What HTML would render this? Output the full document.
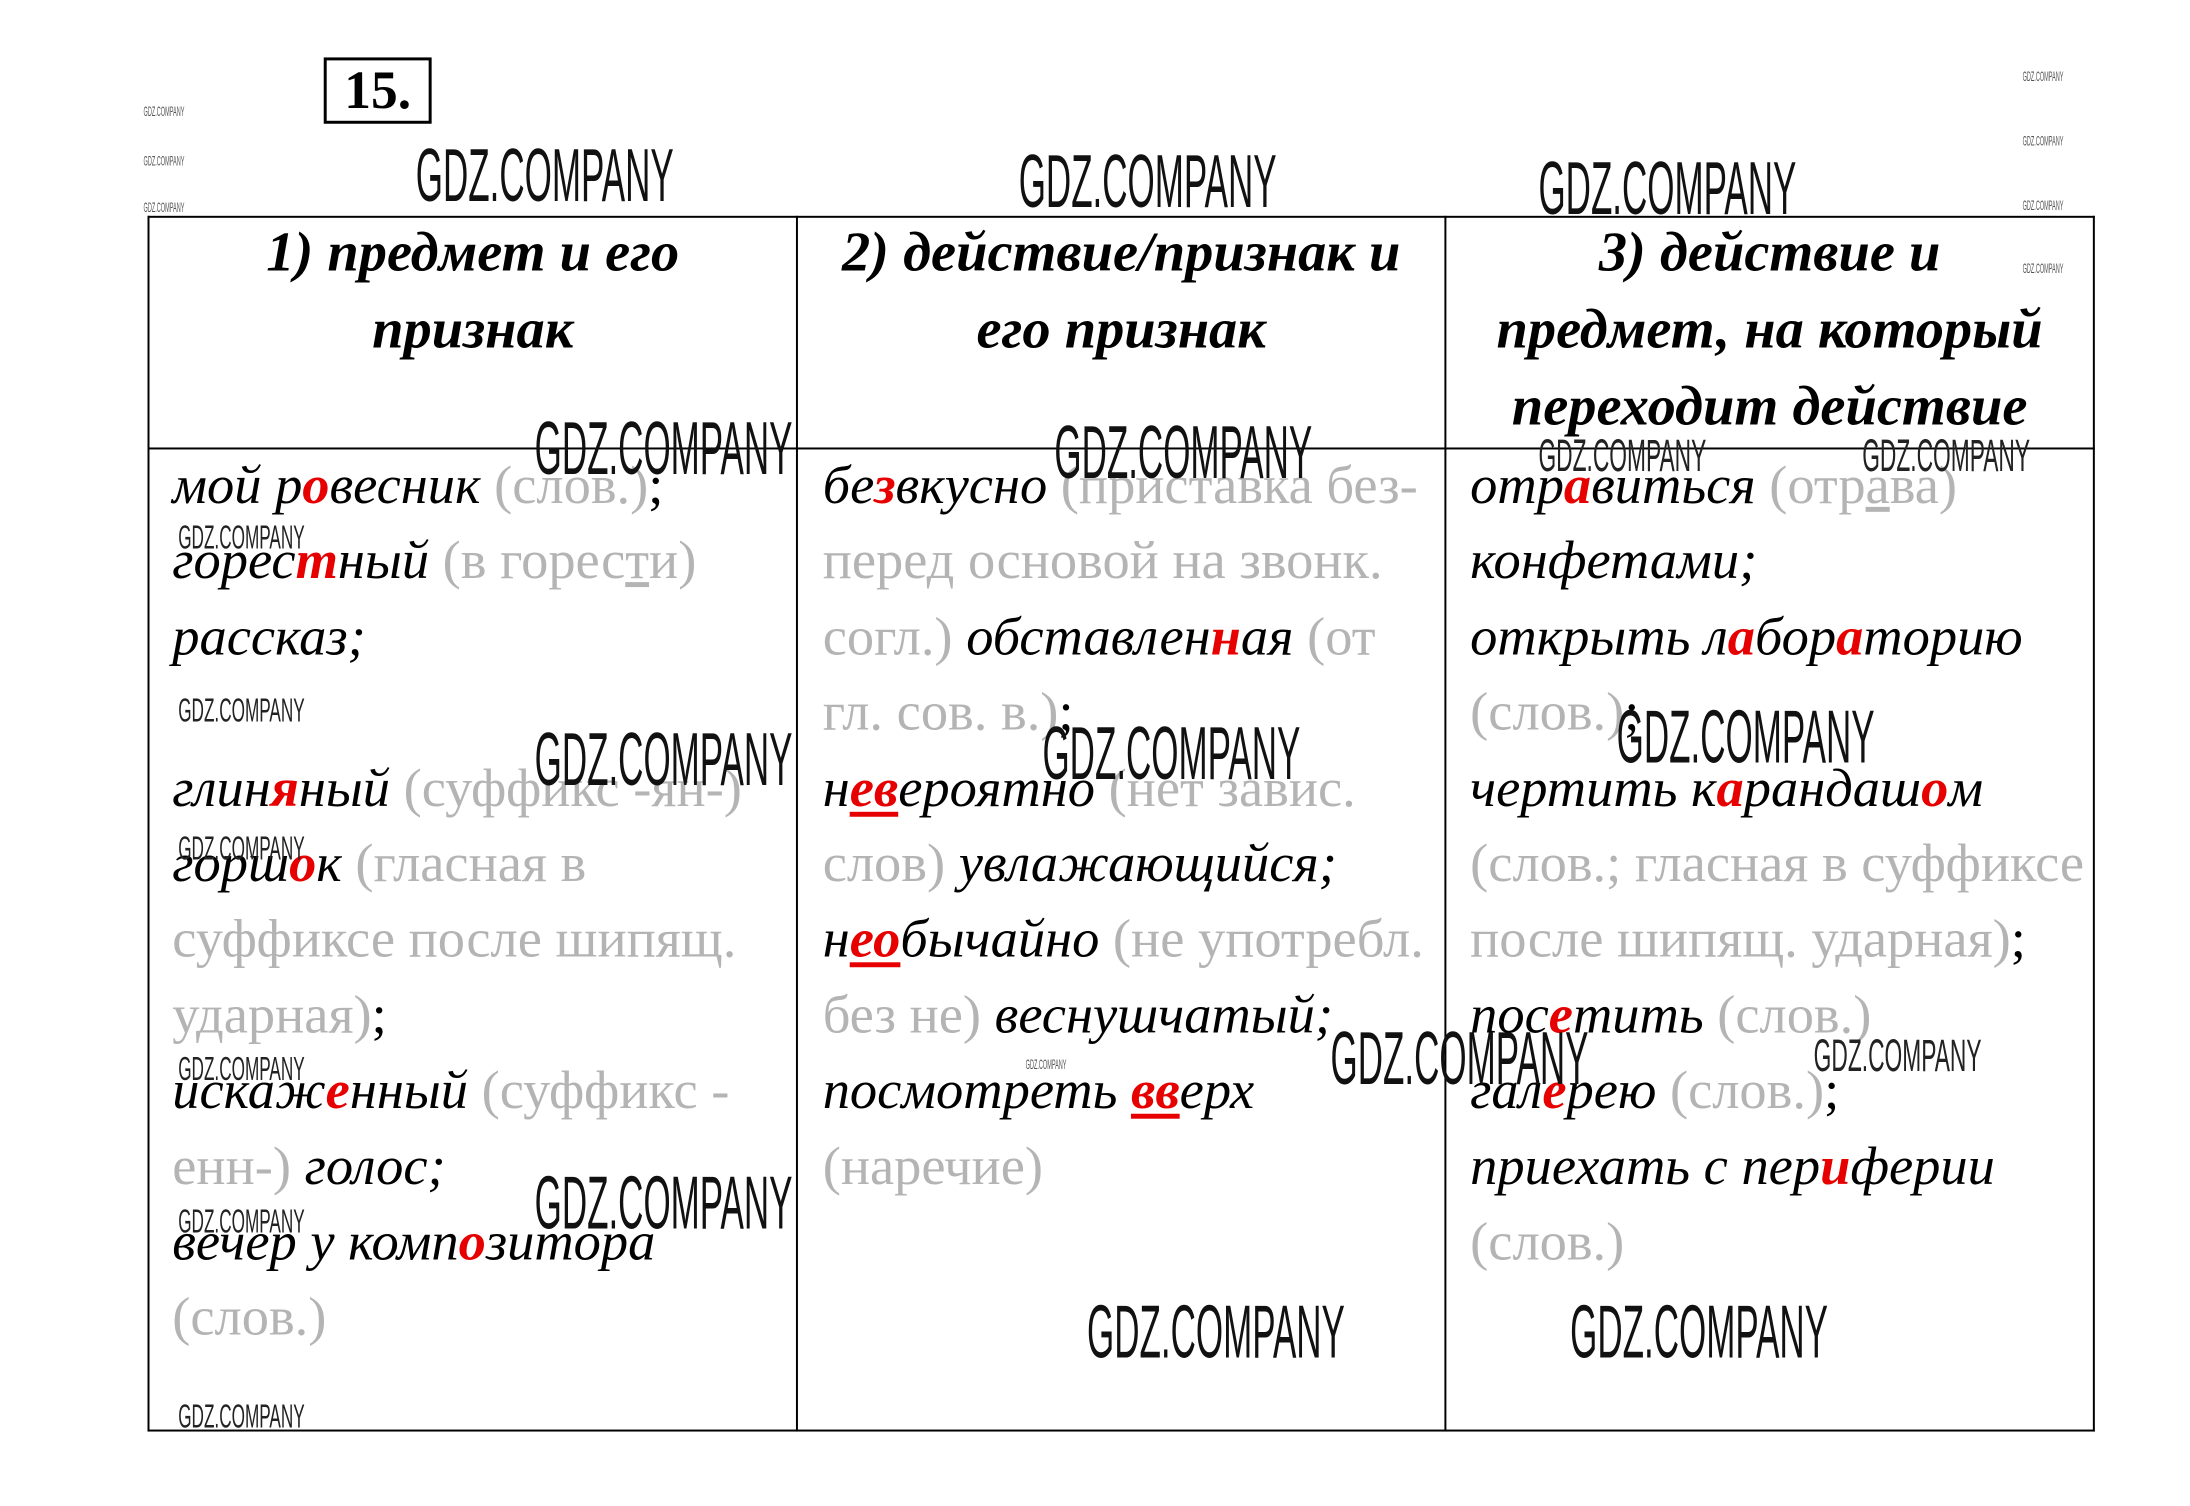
<!DOCTYPE html>
<html><head><meta charset="utf-8">
<style>
html,body{margin:0;padding:0;background:#fff;}
body{width:2190px;height:1506px;position:relative;overflow:hidden;font-family:"Liberation Serif","Noto Serif CJK SC",serif;}
#wrap{position:absolute;left:0;top:0;width:2190px;height:1506px;transform:scale(0.99);transform-origin:0 0;}
.box{position:absolute;left:327px;top:58px;width:103px;height:61px;border:3px solid #000;font-weight:bold;font-size:54px;line-height:61px;text-align:center;}
.h{position:absolute;top:0;height:0;border-top:2px solid #000;}
.v{position:absolute;width:0;border-left:2px solid #000;}
.hdr{position:absolute;top:216px;font-weight:bold;font-style:italic;font-size:57px;line-height:78px;text-align:center;letter-spacing:0px;}
.col{position:absolute;top:452px;font-size:55px;line-height:76.4px;letter-spacing:0px;white-space:nowrap;}
.col div{height:76.4px;}
i{font-style:italic;}
.g{color:#b4b4b4;font-style:normal;}
.r{color:#e60000;font-weight:bold;font-style:italic;}
.u{text-decoration:underline;text-decoration-thickness:5px;text-underline-offset:6px;}
.gu{text-decoration:underline;text-decoration-thickness:5px;text-underline-offset:4px;}
.w{position:absolute;font-family:"Liberation Sans",sans-serif;line-height:1;white-space:nowrap;transform-origin:0 0;color:#000;}
.L{font-size:76px;transform:scaleX(0.465);color:#111;}
.M{font-size:46px;transform:scaleX(0.5);color:#222;}
.S{font-size:34px;transform:scaleX(0.51);color:#222;}
.T{font-size:14px;transform:scaleX(0.4);color:#555;}
</style></head><body>
<div id="wrap">
<div class="box">15.</div>

<div class="h" style="left:149px;width:1967px;top:218px"></div>
<div class="h" style="left:149px;width:1967px;top:452px"></div>
<div class="h" style="left:149px;width:1967px;top:1444px"></div>
<div class="v" style="left:149px;top:218px;height:1228px"></div>
<div class="v" style="left:804px;top:218px;height:1228px"></div>
<div class="v" style="left:1459px;top:218px;height:1228px"></div>
<div class="v" style="left:2114px;top:218px;height:1228px"></div>

<div class="hdr" style="left:151px;width:653px">1) предмет и его<br>признак</div>
<div class="hdr" style="left:806px;width:653px">2) действие/признак и<br>его признак</div>
<div class="hdr" style="left:1461px;width:653px">3) действие и<br>предмет, на который<br>переходит действие</div>

<div class="col" style="left:174px">
<div><i>мой р<span class="r">о</span>весник</i> <span class="g">(слов.)</span>;</div>
<div><i>горес<span class="r">т</span>ный</i> <span class="g">(в горес<span class="gu">т</span>и)</span></div>
<div><i>рассказ;</i></div>
<div></div>
<div><i>глин<span class="r">я</span>ный</i> <span class="g">(суффикс -ян-)</span></div>
<div><i>горш<span class="r">о</span>к</i> <span class="g">(гласная в</span></div>
<div><span class="g">суффиксе после шипящ.</span></div>
<div><span class="g">ударная)</span>;</div>
<div><i>искаж<span class="r">е</span>нный</i> <span class="g">(суффикс -</span></div>
<div><span class="g">енн-)</span> <i>голос;</i></div>
<div><i>вечер у комп<span class="r">о</span>зитора</i></div>
<div><span class="g">(слов.)</span></div>
</div>

<div class="col" style="left:831px">
<div><i>бе<span class="r">з</span>вкусно</i> <span class="g">(приставка без-</span></div>
<div><span class="g">перед основой на звонк.</span></div>
<div><span class="g">согл.)</span> <i>обставлен<span class="r">н</span>ая</i> <span class="g">(от</span></div>
<div><span class="g">гл. сов. в.)</span>;</div>
<div><i>н<span class="r u">ев</span>ероятно</i> <span class="g">(нет завис.</span></div>
<div><span class="g">слов)</span> <i>увлажающийся;</i></div>
<div><i>н<span class="r u">ео</span>бычайно</i> <span class="g">(не употребл.</span></div>
<div><span class="g">без не)</span> <i>веснушчатый;</i></div>
<div><i>посмотреть <span class="r u">вв</span>ерх</i></div>
<div><span class="g">(наречие)</span></div>
</div>

<div class="col" style="left:1485px">
<div><i>отр<span class="r">а</span>виться</i> <span class="g">(отр<span class="gu">а</span>ва)</span></div>
<div><i>конфетами;</i></div>
<div><i>открыть л<span class="r">а</span>бор<span class="r">а</span>торию</i></div>
<div><span class="g">(слов.)</span>;</div>
<div><i>чертить к<span class="r">а</span>рандаш<span class="r">о</span>м</i></div>
<div><span class="g">(слов.; гласная в суффиксе</span></div>
<div><span class="g">после шипящ. ударная)</span>;</div>
<div><i>пос<span class="r">е</span>тить</i> <span class="g">(слов.)</span></div>
<div><i>гал<span class="r">е</span>рею</i> <span class="g">(слов.)</span>;</div>
<div><i>приехать с пер<span class="r">и</span>ферии</i></div>
<div><span class="g">(слов.)</span></div>
</div>

<div class="w L" style="left:420px;top:140px">GDZ.COMPANY</div>
<div class="w L" style="left:1029px;top:146px">GDZ.COMPANY</div>
<div class="w L" style="left:1554px;top:153px">GDZ.COMPANY</div>
<div class="w L" style="left:540px;top:416px">GDZ.COMPANY</div>
<div class="w L" style="left:1065px;top:420px">GDZ.COMPANY</div>
<div class="w L" style="left:540px;top:730px">GDZ.COMPANY</div>
<div class="w L" style="left:1053px;top:724px">GDZ.COMPANY</div>
<div class="w L" style="left:1633px;top:707px">GDZ.COMPANY</div>
<div class="w L" style="left:1344px;top:1032px">GDZ.COMPANY</div>
<div class="w L" style="left:540px;top:1178px">GDZ.COMPANY</div>
<div class="w L" style="left:1098px;top:1308px">GDZ.COMPANY</div>
<div class="w L" style="left:1586px;top:1308px">GDZ.COMPANY</div>

<div class="w M" style="left:1554px;top:437px">GDZ.COMPANY</div>
<div class="w M" style="left:1881px;top:437px">GDZ.COMPANY</div>
<div class="w M" style="left:1832px;top:1043px">GDZ.COMPANY</div>

<div class="w S" style="left:180px;top:526px">GDZ.COMPANY</div>
<div class="w S" style="left:180px;top:701px">GDZ.COMPANY</div>
<div class="w S" style="left:180px;top:840px">GDZ.COMPANY</div>
<div class="w S" style="left:180px;top:1063px">GDZ.COMPANY</div>
<div class="w S" style="left:180px;top:1217px">GDZ.COMPANY</div>
<div class="w S" style="left:180px;top:1414px">GDZ.COMPANY</div>

<div class="w T" style="left:145px;top:105px">GDZ.COMPANY</div>
<div class="w T" style="left:145px;top:155px">GDZ.COMPANY</div>
<div class="w T" style="left:145px;top:202px">GDZ.COMPANY</div>
<div class="w T" style="left:2043px;top:70px">GDZ.COMPANY</div>
<div class="w T" style="left:2043px;top:135px">GDZ.COMPANY</div>
<div class="w T" style="left:2043px;top:200px">GDZ.COMPANY</div>
<div class="w T" style="left:2043px;top:264px">GDZ.COMPANY</div>
<div class="w T" style="left:1036px;top:1068px">GDZ.COMPANY</div>
</div>
</body></html>
